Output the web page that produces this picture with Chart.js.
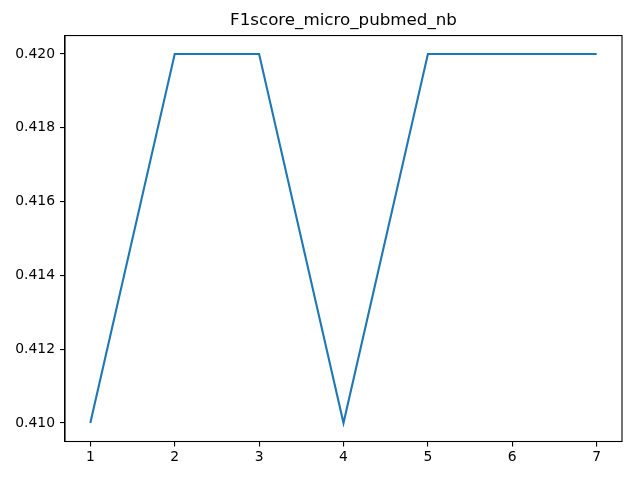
<!DOCTYPE html>
<html>
<head>
<meta charset="utf-8">
<script src="https://cdn.jsdelivr.net/npm/chart.js@4/dist/chart.umd.min.js"></script>
<style>
  html, body { margin: 0; padding: 0; background: #fff; }
  #wrap { width: 640px; height: 480px; }
</style>
</head>
<body>
<div id="wrap"><canvas id="c" width="640" height="480"></canvas></div>
<script>
var titel = 'F1score_micro_pubmed_nb';
var durchlauf = [1, 2, 3, 4, 5, 6, 7];
var f1Werte = [0.410, 0.420, 0.420, 0.410, 0.420, 0.420, 0.420];
var xTicks = [1, 2, 3, 4, 5, 6, 7];
var yTicks = [0.410, 0.412, 0.414, 0.416, 0.418, 0.420];

// rahmen rund um die achsen, wie bei matplotlib
var rahmen = {
    id: 'rahmen',
    afterDatasetsDraw: function(chart) {
        var a = chart.chartArea, ctx = chart.ctx;
        ctx.save();
        ctx.strokeStyle = '#000';
        ctx.lineWidth = 1.1;
        ctx.strokeRect(a.left, a.top, a.right - a.left, a.bottom - a.top);
        ctx.restore();
    }
};

var punkte = durchlauf.map(function(x, i) { return { x: x, y: f1Werte[i] }; });
var schrift = { family: 'DejaVu Sans', size: 13.9 };

new Chart(document.getElementById('c').getContext('2d'), {
    type: 'line',
    data: {
        datasets: [{
            data: punkte,
            borderColor: '#1f77b4',
            borderWidth: 2.1,
            pointRadius: 0,
            tension: 0,
            fill: false
        }]
    },
    options: {
        responsive: false,
        animation: false,
        devicePixelRatio: 1,
        layout: { padding: { left: 0, right: 18, top: 0, bottom: 0 } },
        plugins: {
            legend: { display: false },
            tooltip: { enabled: false },
            title: {
                display: true,
                text: titel,
                fullSize: false,
                color: '#000',
                font: { family: 'DejaVu Sans', size: 16.7, weight: 'normal', lineHeight: 1.2 },
                padding: { top: 11, bottom: 4.5 }
            }
        },
        scales: {
            x: {
                type: 'linear',
                min: 0.7,
                max: 7.3,
                afterBuildTicks: function(s) { s.ticks = xTicks.map(function(v) { return { value: v }; }); },
                afterFit: function(s) { s.height = 38.5; },
                grid: { display: true, drawOnChartArea: false, drawTicks: true, tickLength: 5, color: '#000', lineWidth: 1.1 },
                border: { display: true, color: '#000', width: 1.1 },
                ticks: { color: '#000', font: schrift, padding: 3, maxRotation: 0, autoSkip: false,
                    callback: function(v) { return String(v); } }
            },
            y: {
                type: 'linear',
                min: 0.4095,
                max: 0.4205,
                afterBuildTicks: function(s) { s.ticks = yTicks.map(function(v) { return { value: v }; }); },
                afterFit: function(s) { s.width = 65; },
                grid: { display: true, drawOnChartArea: false, drawTicks: true, tickLength: 5, color: '#000', lineWidth: 1.1 },
                border: { display: true, color: '#000', width: 1.1 },
                ticks: { color: '#000', font: schrift, padding: 5, autoSkip: false,
                    callback: function(v) { return v.toFixed(3); } }
            }
        }
    },
    plugins: [rahmen]
});
</script>
</body>
</html>
